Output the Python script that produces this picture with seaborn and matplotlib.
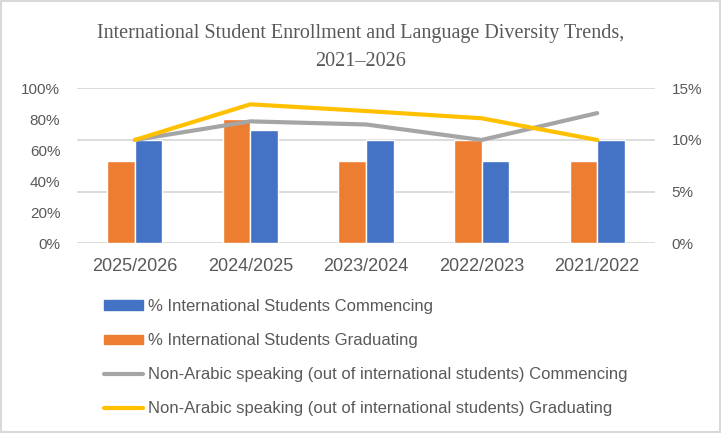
import matplotlib
matplotlib.use('Agg')
import matplotlib.pyplot as plt
import seaborn as sns
import pandas as pd
from matplotlib.patches import Patch, Rectangle
from matplotlib.lines import Line2D
from matplotlib.ticker import PercentFormatter

sns.set_theme(style="white")
plt.rcParams['font.family'] = ['Liberation Sans', 'DejaVu Sans']

years = ["2025/2026", "2024/2025", "2023/2024", "2022/2023", "2021/2022"]
intl_commencing = [66.7, 73.3, 66.7, 53.3, 66.7]
intl_graduating = [53.3, 80.0, 53.3, 66.7, 53.3]
nonarabic_commencing = [10.0, 11.8, 11.5, 10.0, 12.6]
nonarabic_graduating = [10.0, 13.45, 12.8, 12.1, 10.0]

lab_comm = "% International Students Commencing"
lab_grad = "% International Students Graduating"
lab_nc = "Non-Arabic speaking (out of international students) Commencing"
lab_ng = "Non-Arabic speaking (out of international students) Graduating"

blue = "#4472C4"
orange = "#ED7D31"
grey = "#A5A5A5"
yellow = "#FFC000"
txt = "#595959"
gridc = "#D9D9D9"

bars = pd.DataFrame({
    "year": years * 2,
    "value": intl_graduating + intl_commencing,
    "series": [lab_grad] * 5 + [lab_comm] * 5,
})
lines = pd.DataFrame({
    "year": years * 2,
    "value": nonarabic_commencing + nonarabic_graduating,
    "series": [lab_nc] * 5 + [lab_ng] * 5,
})

W, H = 721, 433
fig = plt.figure(figsize=(W / 100, H / 100), dpi=100)
ax = fig.add_axes([77 / W, 1 - 243.3 / H, 578 / W, 155 / H])

# bars on the left (0-100%) axis
sns.barplot(data=bars, x="year", y="value", hue="series",
            hue_order=[lab_grad, lab_comm], palette=[orange, blue],
            width=0.476, gap=0, saturation=1, legend=False, ax=ax, zorder=2)
ax.set_ylim(0, 100)
ax.set_yticks(range(0, 101, 20))
ax.yaxis.set_major_formatter(PercentFormatter(decimals=0))
ax.set_xlabel("")
ax.set_ylabel("")
ax.tick_params(axis="y", length=0, labelsize=11, colors=txt, pad=12)
ax.tick_params(axis="x", length=0, labelsize=13, colors=txt, pad=10.5)
for s in ax.spines.values():
    s.set_visible(False)
ax.set_xlim(-0.5, 4.5)
# gridlines follow the right axis (every 5%)
for v in [0, 5, 10, 15]:
    ax.axhline(v / 15 * 100, color=gridc, linewidth=1.3, zorder=0)

# lines on the right (0-15%) axis
ax2 = ax.twinx()
sns.lineplot(data=lines, x="year", y="value", hue="series",
             hue_order=[lab_nc, lab_ng], palette=[grey, yellow],
             linewidth=3, legend=False, ax=ax2, sort=False,
             solid_capstyle="round", solid_joinstyle="round")
ax2.set_ylim(0, 15)
ax2.set_yticks([0, 5, 10, 15])
ax2.yaxis.set_major_formatter(PercentFormatter(decimals=0))
ax2.set_ylabel("")
ax2.tick_params(axis="y", length=0, labelsize=11, colors=txt, pad=12)
ax2.grid(False)
for s in ax2.spines.values():
    s.set_visible(False)

handles = [
    Patch(facecolor=blue, edgecolor=blue),
    Patch(facecolor=orange, edgecolor=orange),
    Line2D([], [], color=grey, linewidth=3),
    Line2D([], [], color=yellow, linewidth=3),
]
fig.legend(handles, [lab_comm, lab_grad, lab_nc, lab_ng],
           loc="upper left", bbox_to_anchor=(104 / W, 1 - 299 / H),
           frameon=False, fontsize=12, labelcolor=txt,
           handlelength=2.35, handleheight=0.5, handletextpad=0.3,
           labelspacing=1.15, borderpad=0, borderaxespad=0)

serif = ["Liberation Serif", "DejaVu Serif"]
fig.text(0.5, 1 - 38 / H,
         "International Student Enrollment and Language Diversity Trends,",
         ha="center", va="baseline", fontsize=14.5, color=txt, family=serif)
fig.text(0.5, 1 - 66 / H, "2021\u20132026",
         ha="center", va="baseline", fontsize=14.5, color=txt, family=serif)

fig.patches.append(Rectangle((1 / W, 1 / H), (W - 2) / W, (H - 2) / H,
                             transform=fig.transFigure, fill=False,
                             edgecolor=gridc, linewidth=1.5))

fig.savefig("out.png", dpi=100)
